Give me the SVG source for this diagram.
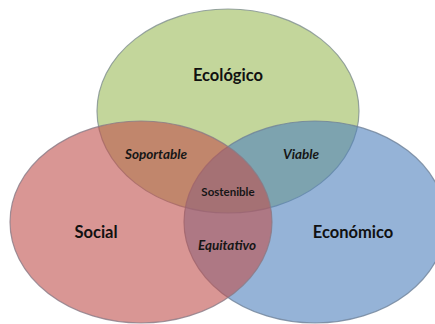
<svg xmlns="http://www.w3.org/2000/svg" width="435" height="324" viewBox="0 0 435 324">
  <style>
    .set { stroke-width: 1.2; }
    .main { font-family: Lato, "Open Sans", "Liberation Sans", sans-serif; font-weight: bold; font-size: 16.5px; fill: #111111; text-anchor: middle; }
    .pair { font-family: Lato, "Open Sans", "Liberation Sans", sans-serif; font-weight: bold; font-style: italic; font-size: 13.5px; fill: #161616; text-anchor: middle; }
    .core { font-family: Lato, "Open Sans", "Liberation Sans", sans-serif; font-weight: bold; font-size: 11.5px; fill: #161616; text-anchor: middle; }
  </style>
  <rect width="435" height="324" fill="#ffffff"/>
  <g id="ecologico">
    <ellipse class="set" cx="228" cy="111" rx="131" ry="102" fill="#9BBB59" fill-opacity="0.6" stroke="#7f8f8f" stroke-opacity="0.8"/>
  </g>
  <g id="economico">
    <ellipse class="set" cx="315" cy="222" rx="131" ry="101" fill="#4F81BD" fill-opacity="0.6" stroke="#6f8299" stroke-opacity="0.8"/>
  </g>
  <g id="social">
    <ellipse class="set" cx="141" cy="222" rx="131" ry="101" fill="#C0504D" fill-opacity="0.6" stroke="#8a7a86" stroke-opacity="0.8"/>
  </g>
  <g id="connectors"></g>
  <g id="labels">
    <text class="main" x="228" y="81">Ecológico</text>
    <text class="main" x="96" y="238">Social</text>
    <text class="main" x="353" y="238">Económico</text>
    <text class="pair" x="156" y="159">Soportable</text>
    <text class="pair" x="301" y="159">Viable</text>
    <text class="core" x="228" y="196">Sostenible</text>
    <text class="pair" x="227" y="250">Equitativo</text>
  </g>
</svg>
